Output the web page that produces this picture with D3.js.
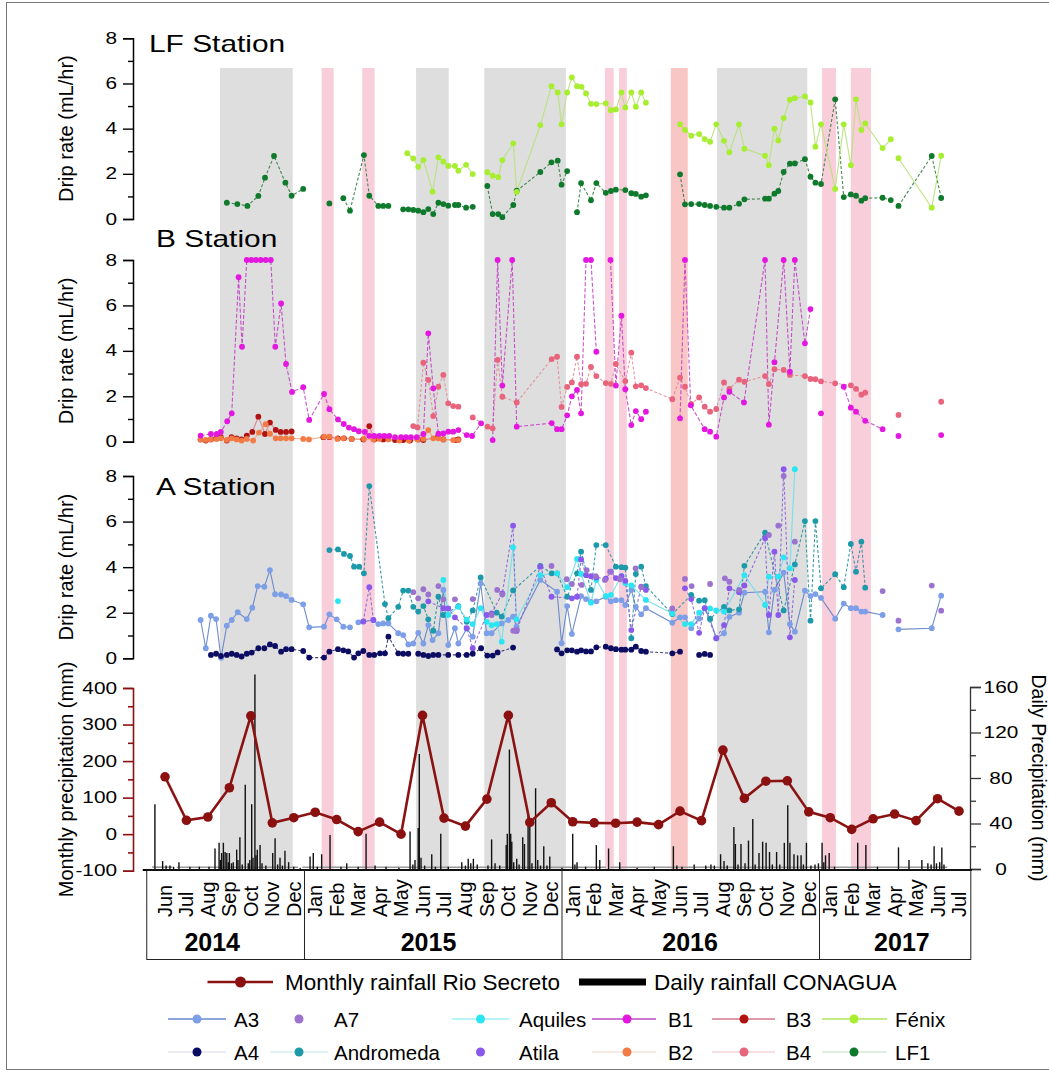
<!DOCTYPE html>
<html>
<head>
<meta charset="utf-8">
<script src="https://cdn.jsdelivr.net/npm/d3@7"></script>
<style>
  body { margin: 0; background: #fff; }
  text { font-family: Arial, "Liberation Sans", sans-serif; }
</style>
</head>
<body>
<svg id="chart" width="1049" height="1072"></svg>
<script>
// Time is expressed in months since 1 June 2014 (0 = Jun 2014, 37 = Jul 2017).
// A null entry breaks a series line (gap in monitoring).

const monthNames = ["Jun","Jul","Aug","Sep","Oct","Nov","Dec",
  "Jan","Feb","Mar","Apr","May","Jun","Jul","Aug","Sep","Oct","Nov","Dec",
  "Jan","Feb","Mar","Apr","May","Jun","Jul","Aug","Sep","Oct","Nov","Dec",
  "Jan","Feb","Mar","Apr","May","Jun","Jul"];
const years = ["2014","2015","2016","2017"];
const yearLabelMonth = [2.2, 12.28, 24.47, 34.34];
const yearBreaks = [6.5, 18.5, 30.5];

// shaded periods [start, end]
const dryPeriods = [[2.56,5.95],[11.70,13.22],[14.88,18.68],[25.72,29.93]];
const pinkPeriods = [[7.30,7.86],[9.19,9.77],[20.50,20.91],[21.16,21.52],[30.62,31.27],[31.96,32.90]];
const salmonPeriods = [[23.57,24.36]];

// Monthly rainfall Rio Secreto (mm), Jun 2014 - Jul 2017
const monthlyRain = [157,38,47,127,324,31,45,60,40,7,33,0,325,44,22,96,325,32,86,34,31,30,33,26,63,37,230,98,145,146,61,45,13,42,55,37,97,63];

// Daily rainfall CONAGUA [month, mm]
const dailyRain = [[-0.47,57],[-0.11,7],[0.05,3],[0.23,3],[0.4,2],[0.65,6],[1.16,2],[1.6,2],[2.05,2],
[2.33,18],[2.52,23],[2.58,8],[2.64,14],[2.72,23],[2.80,15],[2.88,14],[2.95,6],[3.00,14],[3.10,5],[3.18,6],[3.34,17],[3.40,8],[3.49,28],[3.60,4],[3.74,74],[3.88,5],[3.95,8],[4.04,57],[4.10,10],[4.19,171],[4.24,12],[4.30,17],[4.43,21],[4.52,5],[4.70,3],
[5.02,14],[5.13,27],[5.25,4],[5.36,10],[5.47,3],[5.59,16],[5.76,6],[6.0,2],[6.3,1],
[6.76,11],[6.91,14],[7.1,2],[7.30,13],[7.69,30],[8.2,2],[8.47,5],[9.0,2],[9.37,31],[9.79,3],[10.3,2],[10.9,1],
[11.42,33],[11.55,4],[11.65,8],[11.80,36],[11.85,101],[11.93,10],[12.1,3],[12.43,13],[12.6,2],[12.85,31],[13.2,2],[13.83,6],[14.0,3],[14.13,9],[14.25,5],[14.37,9],[14.55,4],
[15.05,3],[15.22,26],[15.38,5],[15.6,3],[15.90,21],[15.95,31],[16.05,105],[16.11,31],[16.16,24],[16.25,6],[16.39,9],[16.5,4],[16.67,28],[16.75,22],[16.92,47],[17.00,37],[17.1,5],[17.27,71],[17.37,8],[17.5,3],[17.65,20],[17.8,3],[17.93,11],
[18.5,1],[19.00,31],[19.10,4],[19.20,6],[19.6,2],[20.10,21],[20.26,8],[20.67,18],[21.19,6],[22.0,1],[22.8,2],[23.69,20],[23.85,3],[24.09,2],[24.66,4],[25.2,3],[25.44,4],[25.6,3],
[25.89,13],[26.05,7],[26.2,3],[26.51,37],[26.58,22],[26.70,4],[26.84,22],[27.03,5],[27.19,25],[27.39,44],[27.5,4],[27.68,14],[27.85,24],[28.01,23],[28.17,15],[28.3,4],[28.50,15],[28.65,4],[28.86,23],[29.02,56],[29.12,23],[29.31,13],[29.48,12],[29.64,12],[29.75,4],[29.89,23],[30.1,3],[30.29,4],[30.45,5],[30.62,23],[30.70,6],[30.78,12],[30.95,14],[31.2,2],
[32.28,23],[32.66,21],[33.2,2],[34.18,19],[34.67,8],[35.27,8],[35.55,5],[35.70,4],[35.84,20],[35.95,5],[36.10,6],[36.20,19],[36.30,4]];
// periods with daily records
const dailyRecordPeriods = [[-0.6,0.35],[0.55,6.2],[6.4,20.55],[20.75,36.45]];

// ---- LF station drip rates (mL/hr) ----
const LF1 = [[2.88,0.72],[3.37,0.66],[3.84,0.58],[4.35,1.02],[4.66,1.83],[5.08,2.79],[5.61,1.61],[5.90,1.03],[6.44,1.33],null,
[7.66,0.69],null,[8.31,0.92],[8.62,0.37],[9.27,2.83],[9.52,1.03],[9.94,0.58],[10.17,0.58],[10.41,0.58],null,
[11.10,0.43],[11.34,0.43],[11.57,0.40],[11.80,0.37],[12.04,0.30],[12.27,0.44],[12.50,0.22],[12.74,0.72],[12.97,0.66],[13.20,0.59],[13.51,0.62],[13.67,0.62],[14.03,0.50],[14.34,0.54],null,
[15.02,1.46],[15.27,0.22],[15.53,0.22],[15.72,0.08],[16.23,0.62],[16.39,1.25],[17.49,2.08],[18.01,2.51],[18.30,2.58],[18.48,1.52],[18.74,2.12],null,
[19.20,0.30],[19.39,1.59],[19.85,0.83],[20.10,1.59],[20.54,1.16],[20.78,1.24],[21.01,1.30],[21.45,1.28],[21.73,1.14],[21.94,1.11],[22.19,0.99],[22.41,1.05],null,
[24.00,1.98],[24.23,0.65],[24.52,0.66],[24.89,0.66],[25.15,0.62],[25.40,0.58],[25.69,0.54],[26.05,0.50],[26.30,0.50],[26.75,0.68],[27.00,0.87],[27.96,0.90],[28.14,0.90],[28.40,1.12],[28.58,1.24],[28.83,2.08],[29.12,2.45],[29.35,2.46],[29.82,2.65],[30.08,1.87],[30.31,1.61],[30.57,1.55],[31.23,5.30],[31.63,0.97],[31.96,1.09],[32.20,1.03],[32.45,0.81],[32.63,0.92],[33.44,0.94],[33.82,0.84],null,
[34.18,0.58],[35.73,2.79],[36.17,0.93]];
const Fenix = [[11.29,2.91],[11.57,2.68],[11.80,2.31],[12.04,2.61],[12.47,1.21],[12.74,2.73],[12.97,2.54],[13.20,2.35],[13.51,2.35],[13.67,2.14],[14.03,2.40],[14.34,1.99],null,
[15.02,2.07],[15.27,1.92],[15.53,1.85],[15.72,2.61],[16.23,3.35],[16.39,1.2],[17.49,4.16],[18.01,5.88],[18.30,5.60],[18.48,4.19],[18.74,5.60],[18.96,6.27],[19.20,5.88],[19.41,5.85],[19.62,5.56],[19.85,5.10],[20.10,5.09],[20.54,5.12],[20.78,4.82],[21.01,4.85],[21.27,5.60],[21.45,4.94],[21.73,5.60],[21.94,4.97],[22.19,5.60],[22.41,5.15],null,
[24.00,4.19],[24.23,3.94],[24.52,3.69],[24.89,3.76],[25.15,3.54],[25.40,3.42],[25.69,4.19],[26.05,3.46],[26.30,2.95],[26.75,4.19],[27.00,3.11],[27.96,2.80],[28.14,2.38],[28.40,4.00],[28.58,3.48],[28.83,4.47],[29.12,5.28],[29.35,5.35],[29.82,5.43],[30.08,5.16],[30.31,3.20],[30.57,4.19],[31.23,1.33],[31.63,4.19],[31.96,2.38],[32.20,5.30],[32.45,3.94],[32.63,4.23],[33.44,3.14],[33.82,3.53],null,
[34.18,2.69],[35.73,0.50],[36.17,2.80]];

// ---- B station drip rates (mL/hr) ----
const B1 = [[1.66,0.27],[2.14,0.34],[2.41,0.34],[2.60,0.43],[2.90,0.9],[3.11,1.25],[3.43,7.24],[3.59,4.18],[3.81,8],[4.02,8],[4.24,8],[4.46,8],[4.69,8],[4.93,8],[5.14,4.18],[5.41,6.09],[5.64,3.42],[5.92,2.19],[6.44,2.40],[6.72,0.96],[7.41,2.10],[7.66,1.43],[8.06,0.98],[8.33,0.78],[8.57,0.62],[8.81,0.55],[9.03,0.46],[9.31,0.43],[9.52,0.26],[9.75,0.25],[9.99,0.25],[10.22,0.25],[10.45,0.25],[10.72,0.2],[11.00,0.2],[11.23,0.2],[11.46,0.2],[11.73,0.2],[12.04,0.34],[12.27,4.77],[12.50,2.35],[12.74,0.35],[12.97,0.36],[13.20,0.44],[13.43,0.44],[13.67,0.51],[14.06,0.29],[14.31,0.25],[14.73,0.81],null,
[15.27,0.07],[15.50,8],[15.72,2.47],[16.18,8],[16.39,0.66],[18.02,0.82],[18.27,0.55],[18.48,0.55],[18.74,1.16],[18.96,2.0],[19.20,2.28],[19.39,1.25],[19.62,8],[19.85,8],[20.10,3.96],null,
[20.76,8],[21.01,2.47],[21.27,5.55],[21.45,2.31],[21.73,0.73],[21.94,1.35],[22.19,0.99],[22.41,1.32],null,
[24.00,1.03],[24.23,8],[24.50,1.6],[25.15,0.55],[25.40,0.44],[25.69,0.22],[26.05,1.95],[26.30,2.2],[26.98,1.73],[27.96,8],[28.14,0.75],[28.40,3.5],[28.83,8],[29.12,3.08],[29.35,8],[29.82,4.33],[30.08,5.84],null,
[30.57,1.25],null,[31.63,2.42],[31.96,1.50],[32.20,1.32],[32.63,0.92],[33.44,0.55],null,[34.18,0.25],null,[36.17,0.29]];
const B2 = [[1.66,0.1],[1.90,0.08],[2.14,0.1],[2.41,0.12],[2.60,0.15],[2.88,0.08],[3.11,0.15],[3.34,0.1],[3.57,0.05],[3.81,0.12],[4.11,0.05],[4.38,0.4],[4.69,0.77],[4.89,0.35],[5.16,0.15],[5.39,0.15],[5.64,0.15],[5.90,0.15],[6.44,0.12],[6.71,0.1],[7.41,0.22],[7.66,0.22],[8.03,0.12],[8.31,0.15],[8.70,0.12],[9.27,0.12],[9.71,0.1],[9.99,0.12],[10.41,0.1],[10.92,0.05],[11.36,0.05],[11.77,0.1],[12.04,0.12],[12.27,0.51],[12.50,0.15],[12.74,0.15],[12.97,0.1],[13.43,0.07],[13.67,0.07]];
const B3 = [[1.66,0.1],[1.90,0.05],[2.14,0.1],[2.38,0.15],[2.60,0.2],[2.88,0.05],[3.10,0.2],[3.34,0.15],[3.56,0.1],[3.81,0.27],[4.07,0.43],[4.35,1.1],[4.66,0.34],[4.89,0.84],[5.16,0.52],[5.39,0.43],[5.64,0.43],[5.90,0.45],null,
[7.38,0.2],[7.66,0.2],[8.06,0.15],[8.34,0.15],[8.70,0.12],[9.24,0.1],[9.52,0.69],[9.75,0.1],[10.17,0.1],[10.72,0.07],[11.10,0.07],[11.42,0.05],[11.80,0.1],[12.04,0.07],[12.71,0.2],[12.97,0.1],[13.56,0.07],[13.67,0.1]];
const B4 = [[11.57,0.69],[11.77,0.63],[12.04,3.48],[12.27,2.72],[12.50,1.13],[12.74,2.42],[12.97,2.94],[13.20,1.69],[13.43,1.57],[13.67,1.54],null,
[14.34,1.07],[15.03,0.66],[15.27,0.59],[15.50,3.6],[15.72,1.98],[16.39,1.73],[18.02,3.64],[18.27,3.74],[18.48,1.53],[18.74,2.41],[18.96,2.61],[19.20,3.74],[19.39,2.53],[19.62,2.55],[19.85,3.29],[20.10,2.89],[20.54,2.58],[20.78,2.55],[21.01,3.42],[21.45,2.67],[21.73,3.92],[21.94,2.44],[22.19,2.48],[22.41,2.36],[23.64,1.87],[24.00,2.82],[24.23,2.42],[24.52,1.66],[24.89,1.95],[25.15,1.54],[25.40,1.32],[25.69,1.44],[26.05,2.61],[26.30,2.33],[26.75,2.73],[27.00,2.64],[27.96,2.89],[28.14,2.54],[28.40,3.19],[28.83,3.16],[29.12,2.94],[29.82,2.89],[30.08,2.76],[30.31,2.75],[30.57,2.66],[31.23,2.57],[31.96,2.48],[32.20,2.33],[32.45,2.07],[32.63,2.16],null,
[34.18,1.18],null,[36.17,1.76]];

// ---- A station drip rates (mL/hr) ----
const A3 = [[1.66,1.68],[1.90,0.44],[2.14,1.87],[2.38,1.72],[2.61,0.02],[2.88,1.43],[3.11,1.68],[3.39,2.02],[3.81,1.72],[4.07,2.22],[4.32,3.17],[4.63,3.14],[4.89,3.87],[5.13,2.81],[5.41,2.80],[5.64,2.73],[5.90,2.56],[6.44,2.37],[6.72,1.36],[7.41,1.39],[7.66,1.93],[8.00,1.71],[8.31,1.39],[8.62,1.36],null,
[9.01,1.58],[9.24,1.61],[9.71,1.68],[9.94,1.50],[10.17,1.53],[10.41,1.53],[10.87,1.10],[11.10,1.02],[11.34,0.61],[11.57,0.65],[11.80,1.12],[12.04,0.65],[12.27,1.46],[12.47,0.80],[12.74,1.10],[12.97,3.00],[13.20,0.58],[13.51,1.32],[13.67,0.65],[14.06,1.30],[14.34,0.95],[14.71,3.29],[14.99,1.10],[15.22,1.10],[15.69,1.53],[16.00,1.68],[16.22,1.83],[16.38,1.39],[17.49,3.44],[18.27,2.92],[18.48,0.66],[18.74,2.29],[18.96,1.07],[19.39,2.73],[19.62,2.60],[19.85,2.48],[20.10,2.50],[20.54,2.70],[20.78,2.50],[21.01,2.55],[21.27,2.55],[21.45,2.34],[21.73,3.00],[21.94,2.25],[22.19,1.93],[22.41,2.20],[23.64,1.56],[24.00,1.80],[24.23,1.80],[24.52,1.32],[24.89,1.74],[25.15,2.20],[25.40,1.70],[25.69,0.88],[26.05,1.10],[26.30,1.82],[26.75,2.00],[27.00,2.88],[27.96,2.92],[28.14,1.14],[28.40,3.00],[28.83,3.76],[29.12,1.50],[29.35,1.17],[29.82,2.97],[30.08,2.73],[30.31,2.82],[30.57,2.65],[31.23,1.74],[31.63,2.40],[31.96,2.20],[32.20,2.20],[32.45,2.05],[32.63,2.05],[33.44,1.90],null,
[34.18,1.27],[35.73,1.32],[36.17,2.75]];
const A4 = [[2.14,0.15],[2.38,0.2],[2.61,0.1],[2.88,0.15],[3.11,0.2],[3.34,0.15],[3.57,0.08],[3.81,0.2],[4.04,0.25],[4.35,0.44],[4.63,0.44],[4.89,0.61],[5.13,0.54],[5.41,0.29],[5.64,0.40],[5.90,0.40],[6.44,0.32],[6.72,0.03],[7.41,0.03],[7.66,0.29],[8.06,0.40],[8.31,0.35],[8.54,0.30],[8.81,0.03],[9.01,0.22],[9.24,0.32],[9.52,0.15],[9.75,0.15],[10.02,0.22],[10.25,0.22],[10.41,0.95],[10.87,0.22],[11.10,0.2],[11.34,0.2],null,
[11.80,0.2],[12.04,0.15],[12.27,0.1],[12.50,0.15],[12.74,0.15],[13.20,0.15],[13.67,0.15],[14.06,0.15],[14.34,0.2],[14.73,0.44],[15.02,0.12],[15.27,0.12],[15.50,0.26],[16.22,0.47],null,
[18.27,0.39],[18.48,0.22],[18.74,0.35],[18.96,0.35],[19.20,0.29],[19.39,0.35],[19.62,0.3],[19.85,0.3],[20.10,0.48],[20.54,0.51],[20.78,0.44],[21.01,0.40],[21.27,0.38],[21.45,0.38],[21.73,0.38],[21.94,0.51],[22.19,0.32],[22.41,0.29],[23.64,0.22],[24.00,0.29],null,
[24.89,0.15],[25.15,0.19],[25.40,0.15]];
const A7 = [[11.57,2.9],[11.80,2.63],[12.04,3.03],[12.27,2.80],[12.74,3.17],[12.97,2.59],[13.51,2.59],[14.34,2.60],[15.22,1.9],[15.48,3.0],[15.72,2.8],[16.23,1.21],[16.40,1.25],[18.01,4.05],[18.72,3.47],[18.96,3.26],[19.42,3.22],[19.65,3.87],[20.07,3.61],[20.50,3.44],[20.74,3.80],[21.20,3.47],[21.93,3.95],[22.21,3.12],[23.64,2.19],[24.23,3.48],[24.54,3.17],[25.40,3.26],[26.09,3.51],[26.30,3.36],[26.76,3.00],[28.14,5.41],[28.58,5.82],[28.83,8.0],[29.35,5.12],[33.44,2.95],[34.18,1.65],[35.73,3.19],[36.17,2.09]];
const Andromeda = [[7.66,4.75],[8.06,4.78],[8.34,4.58],[8.62,4.49],[8.81,4.02],[9.05,4.02],[9.27,3.73],[9.52,7.56],[10.25,2.38],[10.41,1.76],[10.87,2.26],[11.10,2.97],[11.34,2.97],[11.57,2.26],[11.80,2.05],[12.04,2.29],[12.27,1.71],[12.50,1.21],[12.74,2.70],[12.97,1.9],[13.67,2.29],[14.06,1.6],[14.34,2.1],[14.71,3.55],[15.46,2.0],[15.69,1.83],[16.22,2.98],[17.49,4.05],[18.02,3.73],[18.27,3.73],[18.74,2.70],[19.20,3.73],[19.39,4.68],[19.85,3.0],[20.10,4.97],[20.54,4.97],[21.01,4.02],[21.27,4.0],[21.45,3.98],[21.73,0.88],[21.94,3.70],[22.19,4.02],[22.41,3.17],[23.64,1.94],[24.52,2.78],[24.89,2.53],[25.15,2.55],[25.40,1.74],[26.05,2.26],[26.30,2.10],[26.75,2.15],[27.00,4.06],[27.96,5.51],[28.83,2.10],[29.35,4.12],[29.82,6.02],[30.08,1.65],[30.31,6.02],[30.57,3.07],[31.23,3.69],[31.63,3.12],[31.96,5.02],[32.20,3.80],[32.45,5.12],[32.63,3.10]];
const Aquiles = [[8.06,2.51],null,[12.97,3.44],[13.20,1.9],[13.67,2.26],[14.06,1.7],[14.34,1.5],[14.71,2.2],[14.99,1.6],[15.22,1.45],[15.46,1.5],[15.69,0.73],[16.22,4.87],[16.38,1.71],[17.49,3.65],[18.27,3.73],[18.74,3.12],[19.20,4.36],[19.39,3.70],[19.85,2.44],[20.10,3.44],[20.54,2.73],[20.78,2.78],[21.27,3.61],[21.45,3.3],[21.73,3.2],[22.41,2.56],[23.64,1.97],[24.23,1.50],[24.52,1.50],[24.89,2.0],[25.40,2.19],[25.69,2.1],[26.05,2.05],[27.00,3.65],[27.96,2.34],[28.14,3.58],[28.58,3.58],[28.83,4.43],[29.12,3.95],[29.35,8.30]];
const Atila = [[9.24,1.62],[9.52,3.12],[9.71,1.68],null,[12.27,2.5],[12.97,2.2],[13.20,2.19],[13.51,1.8],[14.06,1.32],[14.34,0.44],[14.99,1.9],[15.22,1.97],[15.72,2.85],[16.22,5.82],[16.38,1.2],[17.49,4.02],[18.01,2.7],[18.96,2.63],[19.20,2.70],[19.39,4.34],[19.62,3.65],[19.85,3.6],[20.10,3.55],[20.54,3.5],[20.78,3.80],[21.01,3.52],[21.27,3.6],[21.45,3.4],[21.73,1.24],[22.19,3.14],[22.41,3.0],null,
[24.23,3.07],[24.52,2.6],[24.89,1.12],[25.15,2.2],[25.69,0.88],[26.05,1.46],[26.30,3.07],[26.75,2.9],[27.00,3.2],[27.96,5.27],[28.14,1.90],[28.40,4.68],[28.58,1.9],[28.83,8.3],[29.12,0.92],[29.35,3.44]];

// ---------------- drawing ----------------
const svg = d3.select("#chart");
const AXIS_X = 133;
const x = d3.scaleLinear().domain([0, 37]).range([165, 959]);

const panels = [
  { title: "LF Station", tx: 149, ty: 52, y: d3.scaleLinear().domain([0, 8]).range([219, 38.3]),
    series: [
      { data: LF1, dot: "#0f7a2c", line: "#2f7d3f", dash: "3,2" },
      { data: Fenix, dot: "#a6ee2e", line: "#b5e276", dash: null }
    ] },
  { title: "B Station", tx: 156, ty: 247, y: d3.scaleLinear().domain([0, 8]).range([441.7, 260]),
    series: [
      { data: B3, dot: "#b01212", line: "#d9808f", dash: null },
      { data: B2, dot: "#f27a45", line: "#f1a27e", dash: null },
      { data: B4, dot: "#e8637c", line: "#e28b98", dash: "3,2" },
      { data: B1, dot: "#e317e0", line: "#c43ec6", dash: "4,2" }
    ] },
  { title: "A Station", tx: 156, ty: 495, y: d3.scaleLinear().domain([0, 8]).range([658.3, 476]),
    series: [
      { data: A3, dot: "#7d9fe8", line: "#5f80c8", dash: null },
      { data: Andromeda, dot: "#1c9aaa", line: "#23909e", dash: "3,2" },
      { data: Aquiles, dot: "#2ae6f2", line: "#6fdfe8", dash: null },
      { data: Atila, dot: "#8a58ea", line: "#8a62d8", dash: "3,2" },
      { data: A7, dot: "#9c72cf", line: null, dash: null },
      { data: A4, dot: "#0c0c62", line: "#2c2c6e", dash: "3,2" }
    ] }
];

const yL = d3.scaleLinear().domain([-100, 400]).range([870.7, 688]);
const yR = d3.scaleLinear().domain([0, 160]).range([869, 687]);

// frame
svg.append("rect").attr("x", 6.5).attr("y", 2.5).attr("width", 1046).attr("height", 1067)
  .attr("fill", "none").attr("stroke", "#777").attr("stroke-width", 1);

// shaded periods
const BAND_TOP = 68, BAND_BOT = 870;
function bands(list, color) {
  svg.append("g").selectAll("rect").data(list).join("rect")
    .attr("x", d => x(d[0])).attr("width", d => x(d[1]) - x(d[0]))
    .attr("y", BAND_TOP).attr("height", BAND_BOT - BAND_TOP).attr("fill", color);
}
bands(dryPeriods, "#dedede");
bands(pinkPeriods, "#f9cedb");
bands(salmonPeriods, "#f9c6c6");

// ---- precipitation panel ----
svg.append("g").selectAll("line").data(dailyRecordPeriods).join("line")
  .attr("x1", d => x(d[0])).attr("x2", d => x(d[1]))
  .attr("y1", yR(1.6)).attr("y2", yR(1.6))
  .attr("stroke", "#9a9a9a").attr("stroke-width", 1.6);
svg.append("g").selectAll("line").data(dailyRain).join("line")
  .attr("x1", d => x(d[0])).attr("x2", d => x(d[0]))
  .attr("y1", yR(0)).attr("y2", d => yR(d[1]))
  .attr("stroke", "#111").attr("stroke-width", 1.4);

const monthlyPts = monthlyRain.map((v, i) => [i, v]);
svg.append("path").datum(monthlyPts)
  .attr("d", d3.line().x(d => x(d[0])).y(d => yL(d[1])))
  .attr("fill", "none").attr("stroke", "#8b1212").attr("stroke-width", 2.6);
svg.append("g").selectAll("circle").data(monthlyPts).join("circle")
  .attr("cx", d => x(d[0])).attr("cy", d => yL(d[1])).attr("r", 4.8).attr("fill", "#8b1010");

// left precipitation axis
const axL = svg.append("g").attr("transform", `translate(${AXIS_X},0)`)
  .call(d3.axisLeft(yL).tickValues(d3.range(-100, 401, 50)).tickSizeOuter(0).tickSize(10)
    .tickFormat(d => d % 100 === 0 ? String(d) : ""));
axL.attr("font-family", null);
axL.select(".domain").attr("stroke", "#8b1212").attr("stroke-width", 1.6);
axL.selectAll(".tick line").attr("stroke", "#8b1212").attr("stroke-width", 1.6)
  .attr("x2", d => d % 100 === 0 ? -10 : -5);
axL.selectAll(".tick text").attr("x", -12.3).attr("transform", "scale(1.3,1)")
  .style("font-size", "16px").attr("fill", "#000");

// right daily axis
const axR = svg.append("g").attr("transform", `translate(970,0)`)
  .call(d3.axisRight(yR).tickValues(d3.range(0, 161, 20)).tickSizeOuter(0).tickSize(11)
    .tickFormat(d => d % 40 === 0 ? String(d) : ""));
axR.attr("font-family", null);
axR.select(".domain").attr("stroke", "#333").attr("stroke-width", 1.3);
axR.selectAll(".tick line").attr("stroke", "#333").attr("stroke-width", 1.3)
  .attr("x2", d => d % 40 === 0 ? 11 : 6);
axR.selectAll(".tick text").attr("x", 23.8).attr("text-anchor", "middle")
  .attr("transform", "scale(1.3,1)").style("font-size", "16px").attr("fill", "#000");

// ---- drip panels ----
panels.forEach(p => {
  const g = svg.append("g");
  p.series.forEach(s => {
    if (s.line) {
      g.append("path").datum(s.data)
        .attr("d", d3.line().defined(d => d).x(d => x(d[0])).y(d => p.y(d[1])))
        .attr("fill", "none").attr("stroke", s.line).attr("stroke-width", 1.1)
        .attr("stroke-opacity", 0.9).attr("stroke-dasharray", s.dash);
    }
  });
  p.series.forEach(s => {
    g.append("g").selectAll("circle").data(s.data.filter(d => d)).join("circle")
      .attr("cx", d => x(d[0])).attr("cy", d => p.y(d[1])).attr("r", 2.9).attr("fill", s.dot);
  });

  const ax = svg.append("g").attr("transform", `translate(${AXIS_X},0)`)
    .call(d3.axisLeft(p.y).tickValues(d3.range(0, 9)).tickSizeOuter(0).tickSize(10)
      .tickFormat(d => d % 2 === 0 ? String(d) : ""));
  ax.attr("font-family", null);
  ax.select(".domain").attr("stroke", "#000").attr("stroke-width", 1.5);
  ax.selectAll(".tick line").attr("stroke", "#000").attr("stroke-width", 1.4)
    .attr("x2", d => d % 2 === 0 ? -10 : -5);
  ax.selectAll(".tick text").attr("x", -12.3).attr("transform", "scale(1.3,1)")
    .style("font-size", "16px").attr("fill", "#000");

  svg.append("text").attr("transform", `translate(${p.tx},${p.ty}) scale(1.3,1)`)
    .style("font-size", "23px").attr("fill", "#000").text(p.title);

  const [r0, r1] = p.y.range();
  svg.append("text").attr("transform", `translate(73,${(r0 + r1) / 2}) rotate(-90)`)
    .attr("text-anchor", "middle").style("font-size", "20px").text("Drip rate (mL/hr)");
});

svg.append("text").attr("transform", `translate(73,${(yL.range()[0] + yL.range()[1]) / 2}) rotate(-90)`)
  .attr("text-anchor", "middle").style("font-size", "20px").text("Monthly precipitation (mm)");
svg.append("text").attr("transform", `translate(1032,${(yR.range()[0] + yR.range()[1]) / 2}) rotate(90)`)
  .attr("text-anchor", "middle").style("font-size", "19.5px").text("Daily Precipitation (mm)");

// ---- month / year box ----
const boxTop = 870, boxBot = 959.5, boxL = x(-0.85), boxR = x(37.55);
const box = svg.append("g");
box.append("line").attr("x1", boxL - 4).attr("x2", boxR + 1).attr("y1", boxTop).attr("y2", boxTop)
  .attr("stroke", "#000").attr("stroke-width", 2.2);
box.append("rect").attr("x", boxL).attr("y", boxTop).attr("width", boxR - boxL).attr("height", boxBot - boxTop)
  .attr("fill", "none").attr("stroke", "#222").attr("stroke-width", 1);
box.selectAll("line.sep").data(yearBreaks).join("line").attr("class", "sep")
  .attr("x1", d => x(d)).attr("x2", d => x(d)).attr("y1", boxTop).attr("y2", boxBot)
  .attr("stroke", "#222").attr("stroke-width", 1);
box.selectAll("text.month").data(monthNames).join("text").attr("class", "month")
  .attr("transform", (d, i) => `translate(${x(i)},917) rotate(-90)`)
  .attr("dy", "0.35em").style("font-size", "20px").text(d => d);
box.selectAll("text.year").data(years).join("text").attr("class", "year")
  .attr("x", (d, i) => x(yearLabelMonth[i])).attr("y", 951).attr("text-anchor", "middle")
  .style("font-size", "25px").style("font-weight", "bold").text(d => d);

// ---- legend ----
const leg = svg.append("g");
leg.append("line").attr("x1", 207.5).attr("x2", 273).attr("y1", 982).attr("y2", 982)
  .attr("stroke", "#8b1212").attr("stroke-width", 2.6);
leg.append("circle").attr("cx", 240.5).attr("cy", 982).attr("r", 5.5).attr("fill", "#8b1010");
leg.append("text").attr("x", 285).attr("y", 990).style("font-size", "22.5px").text("Monthly rainfall Rio Secreto");
leg.append("rect").attr("x", 579).attr("y", 978.5).attr("width", 67).attr("height", 7).attr("fill", "#000");
leg.append("text").attr("x", 654).attr("y", 990).style("font-size", "22.5px").text("Daily rainfall CONAGUA");

const legendCols = [
  { l0: 168, l1: 226, dx: 197, tx: 234 },
  { l0: 270, l1: 328, dx: 299, tx: 334 },
  { l0: 452, l1: 509, dx: 480.5, tx: 519 },
  { l0: 592, l1: 656, dx: 627, tx: 668 },
  { l0: 712, l1: 775, dx: 744, tx: 786 },
  { l0: 822, l1: 887, dx: 854, tx: 895 }
];
const legendItems = [
  { name: "A3", row: 0, col: 0, dot: "#7d9fe8", line: "#6787cf" },
  { name: "A7", row: 0, col: 1, dot: "#9c72cf", line: null },
  { name: "Aquiles", row: 0, col: 2, dot: "#2ae6f2", line: "#9cf0f6" },
  { name: "B1", row: 0, col: 3, dot: "#e317e0", line: "#c048c4" },
  { name: "B3", row: 0, col: 4, dot: "#b01212", line: "#d27a8e" },
  { name: "Fénix", row: 0, col: 5, dot: "#a6ee2e", line: "#aee45a" },
  { name: "A4", row: 1, col: 0, dot: "#0c0c62", line: "#e6e6ef" },
  { name: "Andromeda", row: 1, col: 1, dot: "#1c9aaa", line: "#d6eef1" },
  { name: "Atila", row: 1, col: 2, dot: "#8a58ea", line: null },
  { name: "B2", row: 1, col: 3, dot: "#f27a45", line: "#f5e0d6" },
  { name: "B4", row: 1, col: 4, dot: "#e8637c", line: "#f3d3da" },
  { name: "LF1", row: 1, col: 5, dot: "#0f7a2c", line: "#d3eadb" }
];
const rowY = [1019, 1052];
legendItems.forEach(it => {
  const c = legendCols[it.col], yy = rowY[it.row];
  if (it.line) leg.append("line").attr("x1", c.l0).attr("x2", c.l1).attr("y1", yy).attr("y2", yy)
    .attr("stroke", it.line).attr("stroke-width", 1.6);
  leg.append("circle").attr("cx", c.dx).attr("cy", yy).attr("r", 4.5).attr("fill", it.dot);
  leg.append("text").attr("x", c.tx).attr("y", yy + 8).style("font-size", "20.5px").text(it.name);
});
</script>
</body>
</html>
